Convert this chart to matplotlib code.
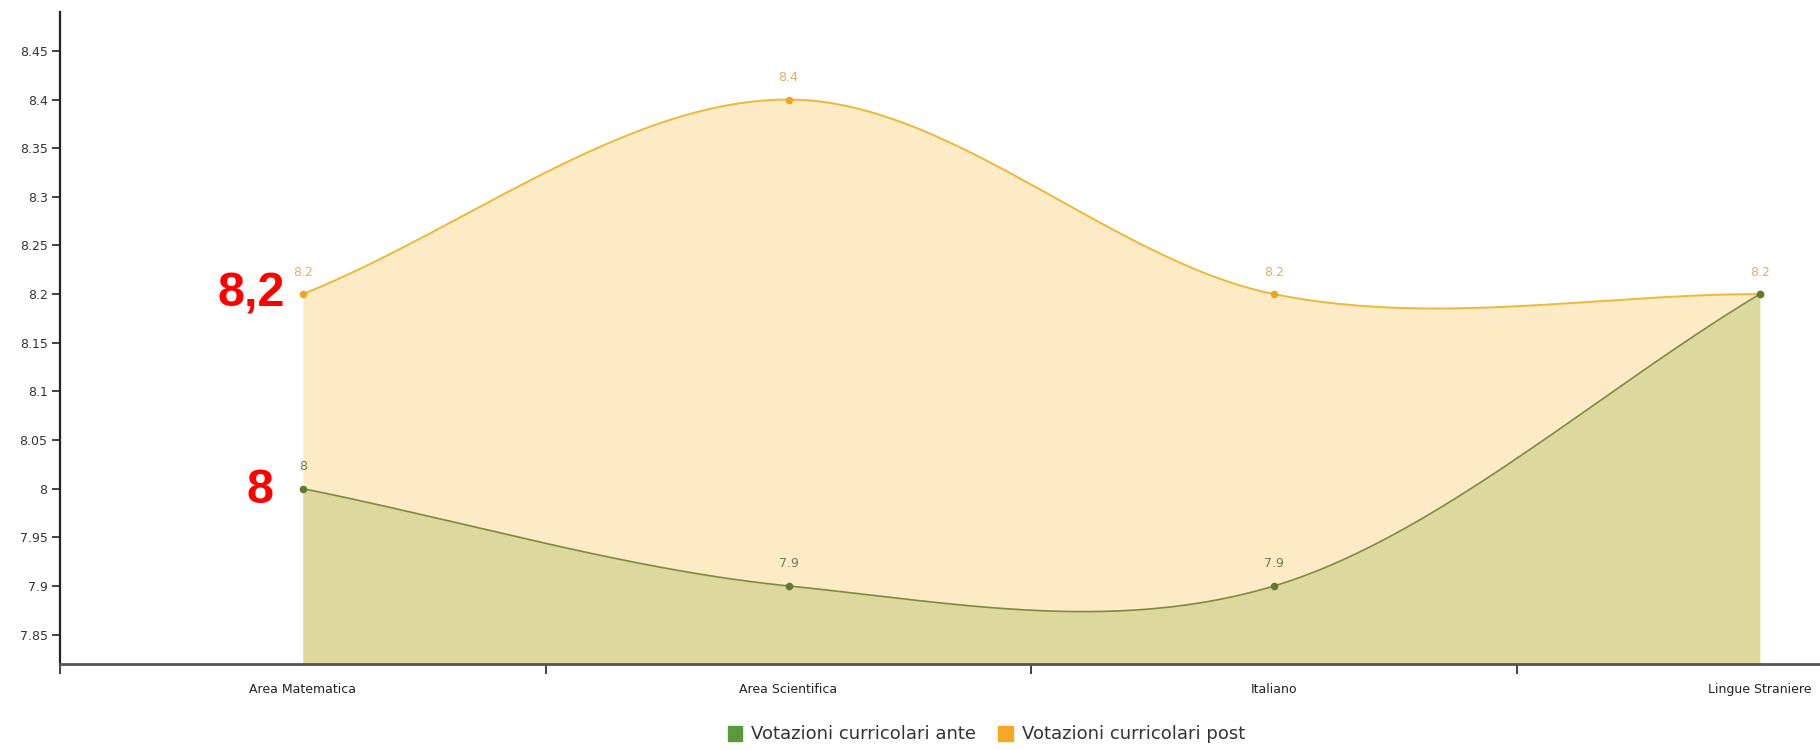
import numpy as np
import matplotlib
matplotlib.use("Agg")
import matplotlib.pyplot as plt
from matplotlib.patches import Patch

categories = ["Area Matematica", "Area Scientifica", "Italiano", "Lingue Straniere"]
ante = [8.0, 7.9, 7.9, 8.2]
post = [8.2, 8.4, 8.2, 8.2]
ante_labels = ["8", "7.9", "7.9", ""]
post_labels = ["8.2", "8.4", "8.2", "8.2"]
yticks = [7.85, 7.9, 7.95, 8.0, 8.05, 8.1, 8.15, 8.2, 8.25, 8.3, 8.35, 8.4, 8.45]
ytick_labels = ["7.85", "7.9", "7.95", "8", "8.05", "8.1", "8.15", "8.2", "8.25", "8.3", "8.35", "8.4", "8.45"]
series_names = ["Votazioni curricolari ante", "Votazioni curricolari post"]


def smooth(y, n=60):
    y = np.asarray(y, float)
    k = len(y)
    m = np.zeros(k)
    for i in range(k):
        if i == 0:
            m[i] = y[1] - y[0]
        elif i == k - 1:
            m[i] = y[-1] - y[-2]
        else:
            m[i] = (y[i + 1] - y[i - 1]) / 2
    xs, ys = [], []
    for i in range(k - 1):
        t = np.linspace(0, 1, n, endpoint=(i == k - 2))
        h00 = 2 * t**3 - 3 * t**2 + 1
        h10 = t**3 - 2 * t**2 + t
        h01 = -2 * t**3 + 3 * t**2
        h11 = t**3 - t**2
        xs.append(i + t)
        ys.append(h00 * y[i] + h10 * m[i] + h01 * y[i + 1] + h11 * m[i + 1])
    return np.concatenate(xs), np.concatenate(ys)


fig = plt.figure(figsize=(18.2, 7.5), dpi=100)
ax = fig.add_axes([0.033, 0.115, 0.967, 0.869])
ymin, ymax = 7.82, 8.49
ax.set_ylim(ymin, ymax)
ax.set_xlim(-0.5, 3.124)

post_fill = "#fcebc4"
post_line = "#ebb93a"
post_mark = "#e9a823"
ante_fill = "#dcd89e"
ante_line = "#7d8a42"
ante_mark = "#5e7a35"

xp, yp = smooth(post)
xa, ya = smooth(ante)
ax.fill_between(xp, yp, ymin, color=post_fill, lw=0, zorder=1)
ax.fill_between(xa, ya, ymin, color=ante_fill, lw=0, zorder=2)
ax.plot(xp, yp, color=post_line, lw=1.4, zorder=3)
ax.plot(xa, ya, color=ante_line, lw=1.2, zorder=3)
x = np.arange(len(categories))
ax.scatter(x, post, s=30, color=post_mark, zorder=4, lw=0)
ax.scatter(x, ante, s=30, color=ante_mark, zorder=4, lw=0)

for i in range(len(categories)):
    ax.text(x[i], post[i] + 0.016, post_labels[i], ha="center", va="bottom",
            fontsize=9, color="#d9b264", zorder=5)
    if ante_labels[i]:
        ax.text(x[i], ante[i] + 0.016, ante_labels[i], ha="center", va="bottom",
                fontsize=9, color="#6f7a55", zorder=5)

# red annotations
ax.text(-0.107, post[0], "8,2", ha="center", va="center", fontsize=35,
        fontweight="bold", color="#ff0000", family="Liberation Sans", zorder=6)
ax.text(-0.088, ante[0] - 0.002, "8", ha="center", va="center", fontsize=35,
        fontweight="bold", color="#ff0000", family="Liberation Sans", zorder=6)

ax.set_yticks(yticks)
ax.set_yticklabels(ytick_labels, fontsize=9, color="#333333")
ax.tick_params(axis="y", length=6, width=1.2, color="#222222", pad=3)

ax.set_xticks([-0.5, 0.5, 1.5, 2.5])
ax.set_xticklabels([])
ax.tick_params(axis="x", length=7, width=1.2, color="#222222", direction="out")
for i, c in enumerate(categories):
    ax.text(x[i], ymin - 0.02, c, ha="center", va="top", fontsize=9,
            color="#222222", clip_on=False)

for s in ["top", "right"]:
    ax.spines[s].set_visible(False)
ax.spines["left"].set_color("#222222")
ax.spines["left"].set_linewidth(1.6)
ax.spines["bottom"].set_color("#555555")
ax.spines["bottom"].set_linewidth(2.0)
ax.set_facecolor("white")

handles = [Patch(color="#5b9a3c"), Patch(color="#f5a823")]
fig.legend(handles, series_names, loc="center", bbox_to_anchor=(0.542, 0.021),
           ncol=2, frameon=False, fontsize=13, handlelength=0.8, handleheight=0.9,
           handletextpad=0.5, columnspacing=1.2, labelcolor="#333333")

fig.savefig("out.png", dpi=100, facecolor="white")
